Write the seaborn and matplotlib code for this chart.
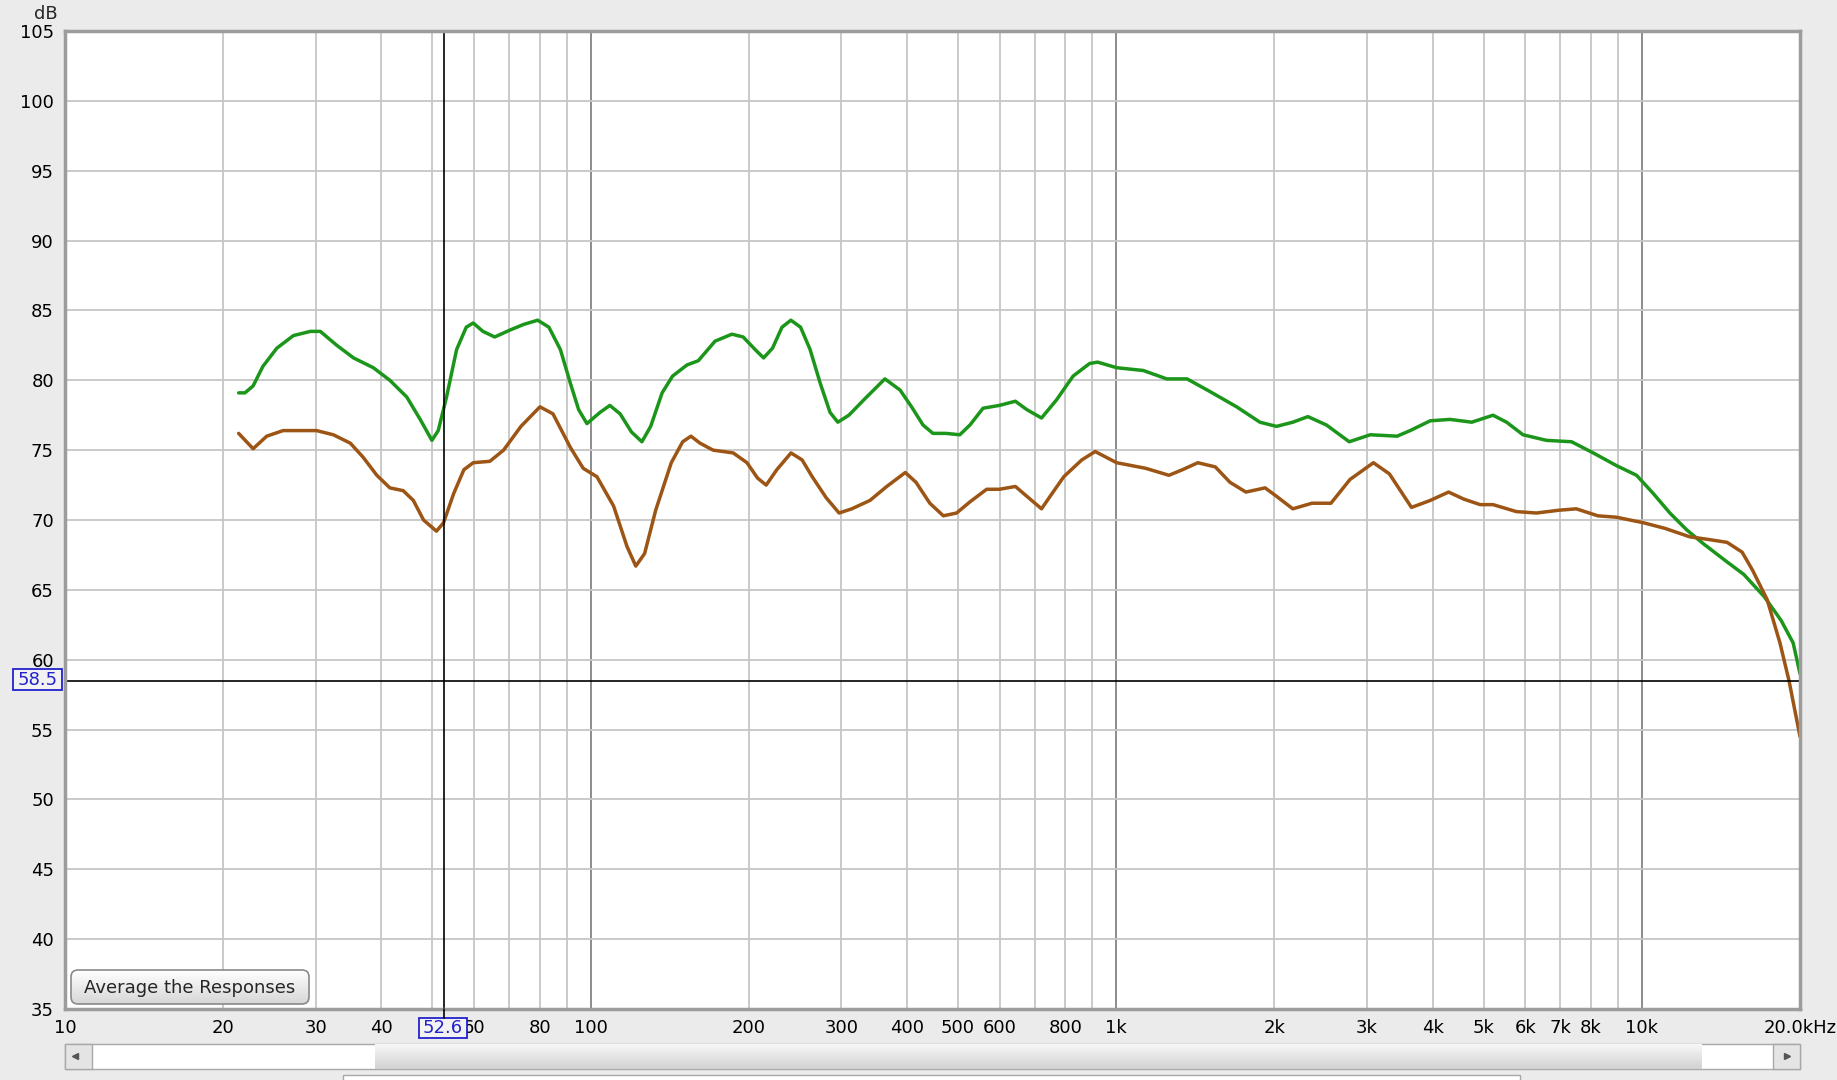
import numpy as np
import pandas as pd
import matplotlib.pyplot as plt
import seaborn as sns
from matplotlib.patches import FancyBboxPatch, Rectangle

# Frequency response readings (Hz, dB)
freq_green = [21.4, 22.0, 22.8, 23.8, 25.3, 27.2, 29.3, 30.6, 32.9, 35.4, 38.6, 41.5,
              44.7, 47.4, 49.9, 51.3, 53.2, 55.6, 58.0, 59.8, 62.4, 65.7, 70.3, 74.6,
              79.3, 83.3, 87.6, 91.5, 94.9, 98.4, 104.2, 108.8, 113.8, 119.6, 125.2,
              130.1, 136.8, 143.2, 152.6, 160.3, 172.5, 185.7, 195.1, 205.6, 213.4,
              221.9, 231.3, 240.5, 250.9, 261.6, 273.4, 285.5, 295.4, 310, 333, 363,
              388, 408, 429, 448, 474, 504, 527, 558, 599, 643, 676, 721, 770, 828,
              890, 922, 1002, 1126, 1248, 1364, 1507, 1695, 1877, 2018, 2168, 2316,
              2512, 2776, 3044, 3424, 3625, 3958, 4318, 4749, 5211, 5530, 5944, 6586,
              7352, 8085, 8943, 9774, 10514, 11310, 12170, 13100, 14530, 15640, 17110,
              18420, 19410, 20000]
db_green = [79.1, 79.1, 79.6, 81.0, 82.3, 83.2, 83.5, 83.5, 82.5, 81.6, 80.9, 80.0,
            78.8, 77.2, 75.7, 76.4, 78.8, 82.2, 83.8, 84.1, 83.5, 83.1, 83.6, 84.0,
            84.3, 83.8, 82.2, 79.8, 77.9, 76.9, 77.7, 78.2, 77.6, 76.3, 75.6,
            76.7, 79.1, 80.3, 81.1, 81.4, 82.8, 83.3, 83.1, 82.2, 81.6,
            82.3, 83.8, 84.3, 83.8, 82.2, 79.8, 77.7, 77.0, 77.5, 78.7, 80.1,
            79.3, 78.1, 76.8, 76.2, 76.2, 76.1, 76.8, 78.0, 78.2, 78.5, 77.9, 77.3, 78.6,
            80.3, 81.2, 81.3, 80.9, 80.7, 80.1, 80.1, 79.2, 78.1, 77.0, 76.7, 77.0, 77.4,
            76.8, 75.6, 76.1, 76.0, 76.4, 77.1, 77.2, 77.0, 77.5, 77.0, 76.1, 75.7,
            75.6, 74.8, 73.9, 73.2, 71.9, 70.5, 69.3, 68.3, 67.0, 66.1, 64.5,
            62.8, 61.2, 59.0]

freq_brown = [21.4, 22.8, 24.2, 26.0, 28.4, 30.1, 32.4, 34.9, 36.9, 39.2, 41.5, 44.0,
              46.0, 48.1, 50.9, 52.5, 54.9, 57.4, 59.8, 64.3, 68.3, 73.7, 80.1, 84.8,
              91.5, 96.8, 102.8, 110.6, 117.3, 121.9, 126.7, 133.0, 142.4, 149.7, 155.2,
              161.5, 171.0, 186.8, 198.4, 207.8, 215.8, 226.1, 240.6, 252.6, 264, 280.6,
              297, 314, 340, 366, 397, 416, 442, 469, 497, 527, 567, 600, 643, 676, 721,
              752, 795, 860, 912, 1002, 1138, 1260, 1337, 1430, 1544, 1646, 1765, 1920,
              2018, 2168, 2357, 2562, 2785, 3086, 3310, 3646, 3958, 4290, 4582, 4925,
              5211, 5775, 6302, 6957, 7505, 8249, 8943, 10080, 11070, 12330, 13430,
              14530, 15520, 16250, 17320, 18320, 19060, 20000]
db_brown = [76.2, 75.1, 76.0, 76.4, 76.4, 76.4, 76.1, 75.5, 74.5, 73.2, 72.3, 72.1,
            71.4, 70.0, 69.2, 69.8, 71.9, 73.6, 74.1, 74.2, 75.0, 76.7, 78.1, 77.6,
            75.2, 73.7, 73.1, 71.0, 68.1, 66.7, 67.6, 70.7, 74.1, 75.6, 76.0,
            75.5, 75.0, 74.8, 74.1, 73.0, 72.5, 73.6, 74.8, 74.3, 73.1, 71.6,
            70.5, 70.8, 71.4, 72.4, 73.4, 72.7, 71.2, 70.3, 70.5, 71.3, 72.2, 72.2, 72.4,
            71.7, 70.8, 71.8, 73.1, 74.3, 74.9, 74.1, 73.7, 73.2, 73.6, 74.1, 73.8, 72.7,
            72.0, 72.3, 71.7, 70.8, 71.2, 71.2, 72.9, 74.1, 73.3, 70.9, 71.4, 72.0,
            71.5, 71.1, 71.1, 70.6, 70.5, 70.7, 70.8, 70.3, 70.2, 69.8, 69.4, 68.8,
            68.6, 68.4, 67.7, 66.4, 64.3, 61.2, 58.5, 54.5]

grid_freqs = [20, 30, 40, 50, 60, 70, 80, 90, 200, 300, 400, 500, 600, 700, 800, 900,
              2000, 3000, 4000, 5000, 6000, 7000, 8000, 9000]
major_freqs = [100, 1000, 10000]
tick_freqs = [10, 20, 30, 40, 60, 80, 100, 200, 300, 400, 500, 600, 800, 1000,
              2000, 3000, 4000, 5000, 6000, 7000, 8000, 10000, 20000]
tick_labels = ["10", "20", "30", "40", "60", "80", "100", "200", "300", "400", "500",
               "600", "800", "1k", "2k", "3k", "4k", "5k", "6k", "7k", "8k", "10k",
               "20.0kHz"]
db_ticks = list(range(35, 110, 5))
cursor_freq = 52.6
cursor_db = 58.5

sns.set_style("white")
plt.rcParams['font.family'] = ['DejaVu Sans']

W, H = 1837, 1080
fig = plt.figure(figsize=(W / 100, H / 100), dpi=100)
fig.patch.set_facecolor('#ebebeb')

L, R, T, B = 65, 1800, 31, 1009
ax = fig.add_axes([L / W, 1 - B / H, (R - L) / W, (B - T) / H])
ax.set_facecolor('white')
ax.set_xscale('log')
ax.set_xlim(10, 20000)
ax.set_ylim(35, 105)

# grid
for f in grid_freqs:
    ax.axvline(f, color='#c6c6c6', lw=1.3, zorder=1)
for f in major_freqs:
    ax.axvline(f, color='#8c8c8c', lw=1.4, zorder=1)
for d in db_ticks[1:-1]:
    ax.axhline(d, color='#c6c6c6', lw=1.3, zorder=1)

green = pd.DataFrame({'freq': freq_green, 'db': db_green})
brown = pd.DataFrame({'freq': freq_brown, 'db': db_brown})
sns.lineplot(data=green, x='freq', y='db', sort=False, color='#1b961b', lw=2.5,
             ax=ax, zorder=3, solid_joinstyle='round', solid_capstyle='round')
sns.lineplot(data=brown, x='freq', y='db', sort=False, color='#9c5514', lw=2.5,
             ax=ax, zorder=3, solid_joinstyle='round', solid_capstyle='round')

# cursors
ax.axvline(cursor_freq, color='black', lw=1.2, zorder=4)
ax.axhline(cursor_db, color='black', lw=1.2, zorder=4)

ax.set_xticks(tick_freqs)
ax.set_xticklabels(tick_labels)
ax.xaxis.set_minor_locator(plt.NullLocator())
ax.set_yticks(db_ticks)
ax.set_yticklabels([str(d) for d in db_ticks])
ax.tick_params(axis='both', length=0, labelsize=13, colors='black')
ax.tick_params(axis='x', pad=7)
ax.tick_params(axis='y', pad=8)
ax.set_xlabel('')
ax.set_ylabel('')
for s in ax.spines.values():
    s.set_color('#9c9c9c')
    s.set_linewidth(2.5)
    s.set_zorder(5)

# overlay in pixel coordinates
ov = fig.add_axes([0, 0, 1, 1], facecolor='none')
ov.set_xlim(0, W)
ov.set_ylim(H, 0)
ov.axis('off')

ov.text(46, 14, 'dB', fontsize=13, ha='center', va='center')

# cursor readouts
ov.plot([444, 444], [B, 1018], color='black', lw=1.2)
ov.add_patch(Rectangle((419, 1018), 48, 20, fc='#f2f2f2', ec='#2222cc', lw=1.3))
ov.text(443, 1028, '52.6', fontsize=13, color='#2222cc', ha='center', va='center')
ov.add_patch(Rectangle((13, 669), 49, 21, fc='#f2f2f2', ec='#2222cc', lw=1.3))
ov.text(37.5, 680, '58.5', fontsize=13, color='#2222cc', ha='center', va='center')

# button
grad = np.linspace(1.0, 0.84, 50).reshape(-1, 1)
btn = FancyBboxPatch((71, 970), 238, 34, boxstyle='round,pad=0,rounding_size=7',
                     fc='none', ec='#8a8a8a', lw=1.2, zorder=6)
im = ov.imshow(grad, cmap='gray', vmin=0, vmax=1, extent=(71, 309, 1004, 970),
               aspect='auto', zorder=5)
ov.add_patch(btn)
im.set_clip_path(btn)
ov.text(190, 988, 'Average the Responses', fontsize=13, ha='center', va='center',
        zorder=7)

# scrollbar
ov.add_patch(Rectangle((65, 1044), 1735, 25, fc='white', ec='#a8a8a8', lw=1))
ov.imshow(np.linspace(0.97, 0.82, 30).reshape(-1, 1), cmap='gray', vmin=0, vmax=1,
          extent=(375, 1702, 1069, 1044), aspect='auto', zorder=3)
ov.add_patch(Rectangle((65, 1044), 27, 25, fc='#e4e4e4', ec='#a8a8a8', lw=1, zorder=4))
ov.add_patch(Rectangle((1773, 1044), 27, 25, fc='#e4e4e4', ec='#a8a8a8', lw=1, zorder=4))
ov.plot([75], [1056], marker='<', color='#555555', ms=5, zorder=5)
ov.plot([1787], [1056], marker='>', color='#555555', ms=5, zorder=5)
ov.add_patch(Rectangle((343, 1075), 1177, 10, fc='white', ec='#a8a8a8', lw=1))
ov.set_xlim(0, W)
ov.set_ylim(H, 0)

fig.savefig('out.png', dpi=100, facecolor=fig.get_facecolor())
